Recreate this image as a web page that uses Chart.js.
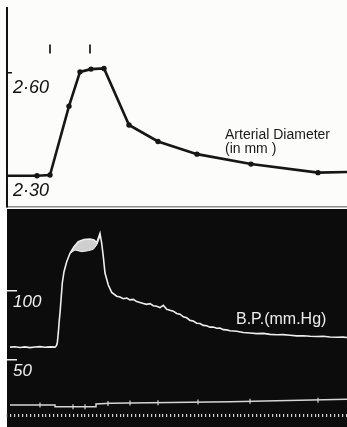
<!DOCTYPE html>
<html>
<head>
<meta charset="utf-8">
<script src="https://cdn.jsdelivr.net/npm/chart.js@4"></script>
<style>
body { margin: 0; background: #fff; }
#top { position: absolute; left: 0; top: 0; width: 347px; height: 209px; background: #fcfcfa; }
#bot { position: absolute; left: 0; top: 209px; width: 347px; height: 218px; background: linear-gradient(to right, #fff 7px, #0c0c0c 7px); }
</style>
</head>
<body>
<div id="top"><canvas id="diam" width="347" height="209"></canvas></div>
<div id="bot"><canvas id="bp" width="347" height="218"></canvas></div>
<script>
// arterial diameter (mm) at the sampling times
var diamTime = [0, 30, 43, 62, 73, 84, 97, 122, 151, 190, 244, 311, 340];
var diamMm = [2.300, 2.300, 2.302, 2.503, 2.603, 2.611, 2.613, 2.448, 2.400, 2.363, 2.334, 2.309, 2.311];
var diamTicks = [2.30, 2.60];
var injectTime = [43, 83];
var injectLevel = [2.67, 2.67];

// blood pressure trace (mm Hg)
var bpTime = [3, 8, 13, 18, 23, 28, 33, 38, 43, 48, 49.5, 50.3, 51.3, 52.3, 53, 54, 55.3, 57, 59.7, 63, 67, 71.3, 77, 83, 87, 89.7, 93,
  94.7, 96.3, 98, 101.3, 104.7, 109.7, 113, 116.3, 119.7, 123, 126.3, 129.7, 133, 136.3, 139.7, 143, 146.3, 149.7, 153, 156.3, 159.7,
  163, 166.3, 169.7, 173, 176.3, 179.7, 183, 186.3, 189.7, 193, 196.3, 199.7, 203, 206.3, 209.7, 213, 216.3, 219.7, 223, 229.7, 236.3,
  243, 249.7, 256.3, 263, 269.7, 276.3, 283, 289.7, 296.3, 303, 309.7, 316.3, 323, 329.7, 336.3, 340];
var bpValue = [59.3, 59.6, 59.1, 59.5, 59.0, 59.4, 59.7, 59.2, 59.5, 59.3, 60.5, 62.5, 69.6, 79.0, 84.0, 93.5, 105.8, 114.0, 121.2, 127.3, 132.1, 135.7, 137.3, 137.7, 137.0, 135.0, 141.8,
  134.6, 124.9, 113.0, 104.3, 99.0, 96.2, 95.6, 94.4, 94.9, 93.6, 93.9, 92.3, 91.7, 91.0, 90.3, 90.8, 89.3, 88.9, 88.0,
  89.6, 86.7, 86.0, 85.4, 83.7, 83.2, 81.3, 80.6, 78.7, 78.2, 76.6, 76.4, 75.1, 74.8, 73.8, 73.9, 73.0, 73.1, 72.0, 71.8, 71.2, 70.8, 69.9,
  69.6, 69.1, 69.3, 68.6, 68.3, 68.4, 67.9, 67.5, 67.6, 67.2, 67.0, 67.2, 66.7, 66.5, 66.6, 66.3];
// lower edge of the pulse band near the peak
var pulseTime = [63, 68, 74.7, 81.3, 86.3, 89.7, 92.3, 93];
var pulseLow = [127.3, 129.7, 128.5, 129.2, 130.2, 133.3, 138.2, 141.8];
var bpTicks = [50, 100];

// signal line with sampling marks
var signalTime = [3, 48, 48, 89, 89, 103, 223, 340];
var signalLevel = [17.4, 17.4, 16.2, 16.2, 18.1, 18.6, 19.8, 21.5];
var markTime = [33, 66, 78, 101, 123, 151, 191, 243, 311];
var markLevel = [17.4, 16.2, 16.2, 18.5, 18.8, 19.1, 19.5, 20.1, 20.9];

function xy(xs, ys) {
  return xs.map(function (x, i) { return {x: x, y: ys[i]}; });
}

var notes = {
  id: 'notes',
  afterDatasetsDraw: function (chart, args, opts) {
    var ctx = chart.ctx;
    ctx.save();
    ctx.textBaseline = 'middle';
    opts.items.forEach(function (n) {
      ctx.font = n.font;
      ctx.fillStyle = n.color;
      ctx.fillText(n.text, chart.scales.x.getPixelForValue(n.x), chart.scales.y.getPixelForValue(n.y));
    });
    ctx.restore();
  }
};

function fixedTicks(list) {
  return function (s) { s.ticks = list.map(function (v) { return {value: v}; }); };
}
// y axis takes no room and asks for no extra padding
function flatY(s) {
  s.width = 0;
  s.paddingTop = 0;
  s.paddingBottom = 0;
}

var diam = new Chart(document.getElementById('diam'), {
  type: 'line',
  data: {
    datasets: [{
      label: 'Arterial Diameter',
      data: xy(diamTime, diamMm),
      borderColor: '#161616',
      borderWidth: 2.6,
      pointRadius: [0, 2.7, 2.7, 2.7, 2.7, 2.7, 2.7, 2.7, 2.7, 2.7, 2.7, 2.7, 0],
      pointBackgroundColor: '#161616',
      pointBorderWidth: 0,
      fill: false
    },
    {
      label: 'injections',
      data: xy(injectTime, injectLevel),
      showLine: false,
      pointStyle: 'line',
      pointRotation: 90,
      pointRadius: 4.5,
      pointBorderWidth: 1.8,
      pointBorderColor: '#222'
    }]
  },
  options: {
    responsive: false,
    animation: false,
    layout: {autoPadding: false, padding: {left: 7, top: 8, right: 0, bottom: 0}},
    plugins: {
      legend: {display: false},
      tooltip: {enabled: false},
      notes: {items: [
        {text: 'Arterial Diameter', x: 218, y: 2.419, color: '#1a1a1a', font: '14px "Liberation Sans"'},
        {text: '(in mm )', x: 218, y: 2.379, color: '#1a1a1a', font: '14px "Liberation Sans"'}
      ]}
    },
    scales: {
      x: {
        type: 'linear', min: 0, max: 340,
        afterFit: function (s) { s.height = 2; },
        grid: {display: false},
        ticks: {display: false},
        border: {display: true, color: '#8a8a8a', width: 1.5}
      },
      y: {
        min: 2.2088, max: 2.7893,
        afterBuildTicks: fixedTicks(diamTicks),
        afterFit: flatY,
        grid: {drawOnChartArea: false, tickLength: -5, color: '#111', lineWidth: 1.5},
        border: {display: true, color: '#111', width: 2},
        ticks: {
          mirror: true, padding: 6, labelOffset: 15, color: '#111',
          font: {family: 'Liberation Sans', size: 18, style: 'italic'},
          callback: function (v) { return v.toFixed(2).replace('.', '·'); }
        }
      }
    }
  },
  plugins: [notes]
});

var bp = new Chart(document.getElementById('bp'), {
  type: 'line',
  data: {
    datasets: [{
      label: 'B.P.',
      data: xy(bpTime, bpValue),
      borderColor: '#eeeeee',
      borderWidth: 1.6,
      pointRadius: 0,
      fill: false
    },
    {
      label: 'pulse',
      data: xy(pulseTime, pulseLow),
      borderColor: '#eeeeee',
      borderWidth: 1,
      pointRadius: 0,
      backgroundColor: '#cfcfcf',
      fill: '-1'
    },
    {
      label: 'signal',
      data: xy(signalTime, signalLevel),
      borderColor: '#d6d6d6',
      borderWidth: 1.5,
      pointRadius: 0,
      fill: false
    },
    {
      label: 'samples',
      data: xy(markTime, markLevel),
      showLine: false,
      pointStyle: 'line',
      pointRotation: 90,
      pointRadius: 2.5,
      pointBorderWidth: 1.2,
      pointBorderColor: '#d6d6d6'
    }]
  },
  options: {
    responsive: false,
    animation: false,
    layout: {autoPadding: false, padding: {left: 7, top: 0, right: 0, bottom: 0}},
    plugins: {
      legend: {display: false},
      tooltip: {enabled: false},
      notes: {items: [
        {text: 'B.P.(mm.Hg)', x: 229, y: 79, color: '#eeeeee', font: '16px "Liberation Sans"'}
      ]}
    },
    scales: {
      x: {
        type: 'linear', min: 0, max: 340,
        afterFit: function (s) { s.height = 13; },
        grid: {drawOnChartArea: false, tickLength: 3, color: '#cfcfcf', lineWidth: 1.2},
        ticks: {display: false, stepSize: 3.9},
        border: {display: false}
      },
      y: {
        min: 10.87, max: 159.42,
        afterBuildTicks: fixedTicks(bpTicks),
        afterFit: flatY,
        grid: {drawOnChartArea: false, tickLength: -10, color: '#eeeeee', lineWidth: 1.5},
        border: {display: false},
        ticks: {
          mirror: true, padding: 6, labelOffset: 11, color: '#f0f0f0',
          font: {family: 'Liberation Sans', size: 17, style: 'italic'}
        }
      }
    }
  },
  plugins: [notes]
});
</script>
</body>
</html>
